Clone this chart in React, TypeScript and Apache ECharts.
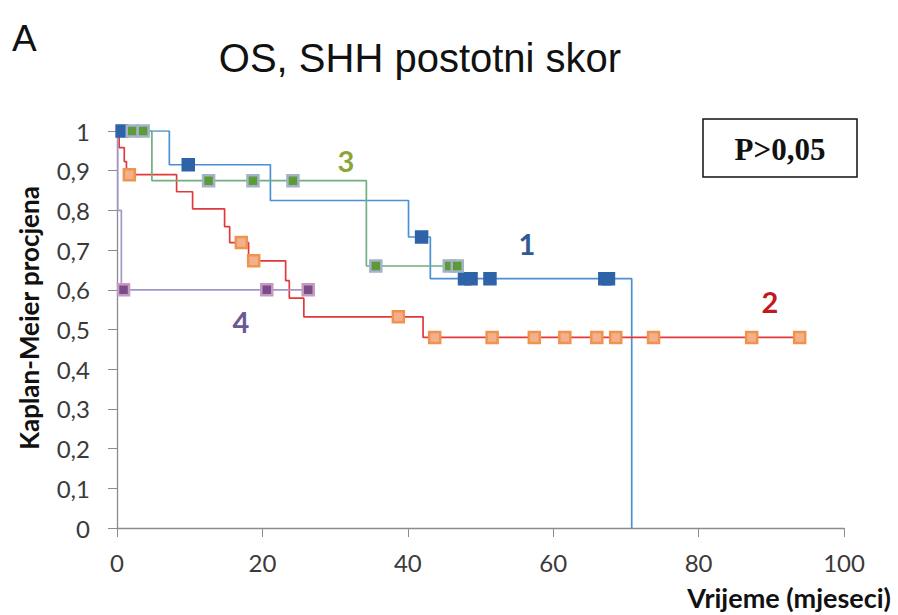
import React, { useEffect, useRef } from "react";
import * as echarts from "echarts";

// Kaplan-Meier step data: event times (months) and survival after each event
const g1Times = [0, 7.2, 21.1, 40.1, 43.1, 70.8];
const g1Surv = [1, 0.915, 0.825, 0.733, 0.628, 0];
const g1Censor = [0.7, 9.8, 41.9, 47.8, 48.7, 51.3, 67.1, 67.6];

const g2Times = [0, 0.3, 1.0, 1.3, 8.2, 10.4, 14.8, 15.5, 18.1, 23.2, 23.7, 25.7, 42.1, 93.9];
const g2Surv = [1, 0.958, 0.923, 0.89, 0.847, 0.804, 0.759, 0.719, 0.673, 0.623, 0.579, 0.532, 0.48, 0.48];
const g2Censor = [1.7, 17.1, 18.8, 38.7, 43.7, 51.6, 57.4, 61.6, 66.0, 68.6, 73.8, 87.3, 93.9];

const g3Times = [0, 4.8, 34.3, 46.9];
const g3Surv = [1, 0.875, 0.66, 0.66];
const g3Censor = [2.1, 3.6, 12.6, 18.7, 24.2, 35.6, 45.7, 46.8];

const g4Times = [0, 0.1, 0.6, 26.3];
const g4Surv = [1, 0.8, 0.6, 0.6];
const g4Censor = [0.9, 20.6, 26.3];

const groupLabels = ["1", "2", "3", "4"];
const xTickStep = 20;
const yTickStep = 0.1;

const FONT = "Lato, 'Open Sans', sans-serif";

function stepAt(times: number[], vals: number[], t: number) {
  let v = vals[0];
  for (let i = 0; i < times.length; i++) {
    if (times[i] <= t) v = vals[i];
  }
  return v;
}

function lineData(times: number[], vals: number[]) {
  return times.map((t, i) => [t, vals[i]]);
}

function censorData(times: number[], vals: number[], cens: number[]) {
  return cens.map((t) => [t, stepAt(times, vals, t)]);
}

export default function App() {
  const ref = useRef<HTMLDivElement>(null);
  useEffect(() => {
    if (!ref.current) return;
    const chart = echarts.init(ref.current, undefined, { renderer: "svg" });
    const groups = [
      { t: g1Times, s: g1Surv, c: g1Censor, line: "#4a90d2", fill: "#2f63a8", border: "#2f63a8" },
      { t: g2Times, s: g2Surv, c: g2Censor, line: "#e2393d", fill: "#f3b08a", border: "#ee944f" },
      { t: g3Times, s: g3Surv, c: g3Censor, line: "#72ae80", fill: "#5f9a38", border: "#a3b3c8" },
      { t: g4Times, s: g4Surv, c: g4Censor, line: "#a497c8", fill: "#7a4c8a", border: "#c39cc0" },
    ];
    const series: any[] = [];
    groups.forEach((g, i) => {
      series.push({
        type: "line",
        name: "g" + groupLabels[i],
        step: "end",
        data: lineData(g.t, g.s),
        showSymbol: false,
        symbol: "none",
        lineStyle: { color: g.line, width: 1.7 },
        z: 2,
      });
    });
    groups.forEach((g, i) => {
      series.push({
        type: "scatter",
        name: "c" + groupLabels[i],
        data: censorData(g.t, g.s, g.c),
        symbol: "rect",
        symbolSize: 11,
        itemStyle: { color: g.fill, borderColor: g.border, borderWidth: 2.5, opacity: 1 },
        z: 3,
      });
    });
    const option: any = {
      animation: false,
      backgroundColor: "#ffffff",
      grid: { left: 117, right: 54, top: 131, bottom: 87, containLabel: false },
      xAxis: {
        type: "value",
        min: 0,
        max: 100,
        interval: xTickStep,
        axisLine: { show: true, lineStyle: { color: "#8c8c8c", width: 1.3 } },
        axisTick: { show: true, inside: false, length: 9, lineStyle: { color: "#8c8c8c" } },
        splitLine: { show: false },
        axisLabel: { fontFamily: FONT, fontSize: 24, color: "#3a3a3a", margin: 22 },
      },
      yAxis: {
        type: "value",
        min: 0,
        max: 1,
        interval: yTickStep,
        axisLine: { show: true, lineStyle: { color: "#8c8c8c", width: 1.3 } },
        axisTick: { show: true, inside: false, length: 9, lineStyle: { color: "#8c8c8c" } },
        splitLine: { show: false },
        axisLabel: {
          fontFamily: FONT,
          fontSize: 24,
          color: "#3a3a3a",
          margin: 27,
          formatter: (v: number) => {
            const r = Math.round(v * 10) / 10;
            if (r === 0) return "0";
            if (r === 1) return "1";
            return r.toFixed(1).replace(".", ",");
          },
        },
      },
      series,
      graphic: [
        {
          type: "text",
          left: 12,
          top: 20,
          style: { text: "A", fontFamily: "'Liberation Sans', Arial, sans-serif", fontSize: 37, fill: "#111" },
        },
        {
          type: "text",
          x: 420,
          y: 58,
          style: {
            text: "OS, SHH postotni skor",
            fontFamily: "'Liberation Sans', Arial, sans-serif",
            fontSize: 40,
            fill: "#111",
            align: "center",
            verticalAlign: "middle",
          },
        },
        {
          type: "rect",
          shape: { x: 703, y: 119, width: 154, height: 58 },
          style: { fill: "#fff", stroke: "#111", lineWidth: 1.5 },
          z: 10,
        },
        {
          type: "text",
          x: 780,
          y: 149,
          z: 11,
          style: {
            text: "P>0,05",
            fontFamily: "'Liberation Serif', 'Times New Roman', serif",
            fontWeight: "bold",
            fontSize: 31,
            fill: "#111",
            align: "center",
            verticalAlign: "middle",
          },
        },
        {
          type: "text",
          x: 29,
          y: 318,
          rotation: Math.PI / 2,
          style: {
            text: "Kaplan-Meier procjena",
            fontFamily: FONT,
            fontWeight: "bold",
            fontSize: 26,
            fill: "#111",
            align: "center",
            verticalAlign: "middle",
          },
        },
        {
          type: "text",
          x: 891,
          y: 597,
          style: {
            text: "Vrijeme (mjeseci)",
            fontFamily: FONT,
            fontWeight: "bold",
            fontSize: 27,
            fill: "#111",
            align: "right",
            verticalAlign: "middle",
          },
        },
        {
          type: "text",
          x: 527,
          y: 243,
          style: { text: groupLabels[0], fontFamily: FONT, fontWeight: "bold", fontSize: 29, fill: "#2e5a96", align: "center", verticalAlign: "middle" },
        },
        {
          type: "text",
          x: 770,
          y: 301,
          style: { text: groupLabels[1], fontFamily: FONT, fontWeight: "bold", fontSize: 29, fill: "#c0191f", align: "center", verticalAlign: "middle" },
        },
        {
          type: "text",
          x: 346,
          y: 160,
          style: { text: groupLabels[2], fontFamily: FONT, fontWeight: "bold", fontSize: 29, fill: "#8ba53a", align: "center", verticalAlign: "middle" },
        },
        {
          type: "text",
          x: 241,
          y: 321,
          style: { text: groupLabels[3], fontFamily: FONT, fontWeight: "bold", fontSize: 29, fill: "#6b5894", align: "center", verticalAlign: "middle" },
        },
      ],
    };
    chart.setOption(option);
    return () => chart.dispose();
  }, []);
  return (
    <div
      ref={ref}
      style={{ position: "fixed", left: 0, top: 0, width: 898, height: 615, background: "#fff" }}
    />
  );
}
